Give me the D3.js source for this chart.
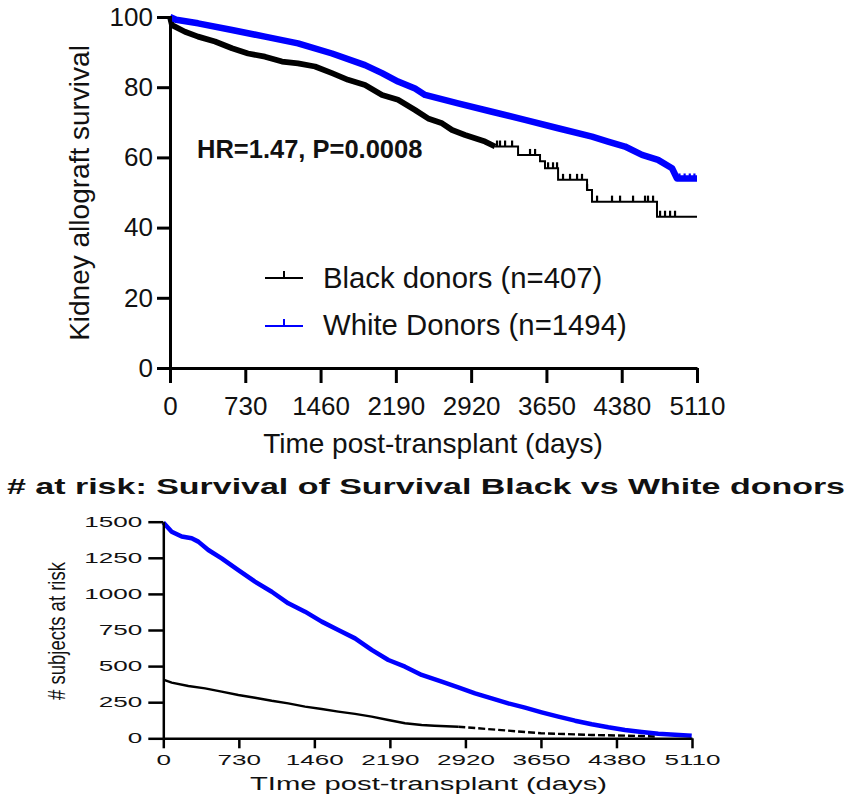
<!DOCTYPE html>
<html><head><meta charset="utf-8">
<script src="https://cdn.jsdelivr.net/npm/d3@7"></script>
<style>body{margin:0;background:#fff} svg{display:block;font-family:"Liberation Sans",Arial,sans-serif}</style>
</head><body>
<svg id="c" width="851" height="803"></svg>
<script>
// ---------- data ----------
const xTicks = [0,730,1460,2190,2920,3650,4380,5110];
const survTicks = [0,20,40,60,80,100];
const riskTicks = [0,250,500,750,1000,1250,1500];

const seriesNames = ["Black donors (n=407)", "White Donors (n=1494)"];
const hrLabel = "HR=1.47, P=0.0008";

// Kaplan-Meier survival (%), Black donors
const blackSurvTime  = [0,19,145,272,436,601,756,921,1086,1241,1406,1571,1726,1891,2056,2211,2376,2502,2638,2735,2861,3055,3152,3375,3588,3636,3763,4044,4092,4722,5110];
const blackSurvValue = [100,97.7,95.8,94.4,93.0,91.1,89.6,88.7,87.3,86.8,85.9,84.0,82.1,80.6,77.8,76.4,73.5,71.1,69.7,67.8,66.4,64.5,63.1,60.7,58.9,56.9,53.6,50.7,47.4,43.1,43.1];
const blackCensor = [3171,3200,3249,3317,3491,3540,3666,3714,3753,3811,3879,3947,3995,4044,4141,4286,4364,4490,4606,4635,4684,4752,4800,4849,4897];

// Kaplan-Meier survival (%), White donors
const whiteSurvTime  = [0,60,272,601,921,1241,1571,1891,2056,2211,2376,2473,2793,3122,3442,3763,4092,4247,4412,4577,4732,4868,4916,5110];
const whiteSurvValue = [100,99.2,98.2,96.3,94.4,92.5,89.6,86.3,84.0,81.6,79.6,77.8,75.4,73.0,70.7,68.3,65.9,64.5,63.1,60.7,59.3,56.9,54.0,54.0];
const whiteCensor = [4940,4990,5040,5085];

// Number at risk
const blackRiskTime  = [0,81,242,404,564,725,886,1048,1208,1370,1531,1691,1853,2014,2175,2336,2497,2620,2851,3174,3650,4141,4620,4750];
const blackRiskValue = [407,385,362,346,323,300,281,260,242,219,203,185,169,150,127,104,92,87,80,62,35,23,16,12];
const whiteRiskTime  = [0,81,178,274,338,435,564,725,886,1048,1208,1370,1531,1691,1853,2014,2175,2336,2497,2691,2851,3013,3174,3334,3496,3657,3818,3979,4141,4301,4462,4624,4784,4945,5107];
const whiteRiskValue = [1494,1431,1397,1385,1362,1304,1246,1165,1085,1015,935,877,808,750,692,612,542,496,439,392,353,311,277,242,212,180,150,122,97,76,58,44,32,25,18];

// ---------- drawing ----------
const svg = d3.select("#c");
const BLUE = "#0000ff", BLK = "#000";
const FONT = '"Liberation Sans",Arial,sans-serif';
const zip = (t,v) => t.map((d,i)=>({t:d, v:v[i]}));
const stepVal = (pts, t) => { let v = pts[0].v; for (const p of pts) { if (p.t <= t) v = p.v; } return v; };
const plain = d3.format("d");

// ===== Top: survival =====
const x1 = d3.scaleLinear().domain([0,5110]).range([170,697]);
const y1 = d3.scaleLinear().domain([0,100]).range([368,17]);

const black = zip(blackSurvTime, blackSurvValue);
const white = zip(whiteSurvTime, whiteSurvValue);
const BLACK_BAND_END = 3152;

const stepLine = d3.line().x(d=>x1(d.t)).y(d=>y1(d.v)).curve(d3.curveStepAfter);
const bandLine = d3.line().x(d=>x1(d.t)).y(d=>y1(d.v)).curve(d3.curveLinear);

const gTop = svg.append("g");
// black curve: dense part drawn as band, sparse part as steps
gTop.append("path").attr("d", stepLine(black.filter(d=>d.t>=BLACK_BAND_END))).attr("fill","none").attr("stroke",BLK).attr("stroke-width",2);
gTop.append("path").attr("d", bandLine(black.filter(d=>d.t<=BLACK_BAND_END))).attr("fill","none").attr("stroke",BLK)
   .attr("stroke-width",5.8).attr("stroke-linejoin","round");
gTop.selectAll(".bc").data(blackCensor).join("line")
   .attr("x1",d=>x1(d)).attr("x2",d=>x1(d))
   .attr("y1",d=>y1(stepVal(black,d))).attr("y2",d=>y1(stepVal(black,d))-6)
   .attr("stroke",BLK).attr("stroke-width",2.2);
// white curve
gTop.append("path").attr("d", bandLine(white)).attr("fill","none").attr("stroke",BLUE)
   .attr("stroke-width",6.5).attr("stroke-linejoin","round");
gTop.selectAll(".wc").data(whiteCensor).join("line")
   .attr("x1",d=>x1(d)).attr("x2",d=>x1(d))
   .attr("y1",d=>y1(stepVal(white,d))).attr("y2",d=>y1(stepVal(white,d))-5)
   .attr("stroke",BLUE).attr("stroke-width",2.2);

// axes
const ay1 = gTop.append("g").attr("transform","translate(170,0)")
  .call(d3.axisLeft(y1).tickValues(survTicks).tickFormat(plain).tickSize(13).tickSizeOuter(0).tickPadding(4));
const ax1 = gTop.append("g").attr("transform","translate(0,368)")
  .call(d3.axisBottom(x1).tickValues(xTicks).tickFormat(plain).tickSize(15).tickSizeOuter(0).tickPadding(13.5));
[ay1, ax1].forEach(g=>{
  g.attr("font-family",null).attr("font-size",null);
  g.selectAll("path,line").attr("stroke","#000").attr("stroke-width",3);
  g.selectAll("text").attr("fill","#111").style("font-size","26px").style("font-family",FONT);
});
ay1.select(".domain").attr("stroke-linecap","square");

gTop.append("text").attr("transform","translate(88.5,193) rotate(-90)").attr("text-anchor","middle")
   .style("font-size","28px").attr("fill","#111").text("Kidney allograft survival");
gTop.append("text").attr("x",433).attr("y",452.5).attr("text-anchor","middle")
   .style("font-size","28px").attr("fill","#111").text("Time post-transplant (days)");
gTop.append("text").attr("x",197).attr("y",158).style("font-size","25.5px").style("font-weight","bold")
   .attr("fill","#111").text(hrLabel);

// legend
const legend = gTop.append("g");
[[BLK,278,287.5],[BLUE,326,335]].forEach(([c,ly,ty],i)=>{
  legend.append("line").attr("x1",265).attr("x2",303).attr("y1",ly).attr("y2",ly).attr("stroke",c).attr("stroke-width",2);
  legend.append("line").attr("x1",284).attr("x2",284).attr("y1",ly).attr("y2",ly-7).attr("stroke",c).attr("stroke-width",2);
  legend.append("text").attr("x",323).attr("y",ty).style("font-size","29.3px").attr("fill","#111").text(seriesNames[i]);
});

// ===== Bottom: number at risk =====
const SX = 1.8;
const x2 = d3.scaleLinear().domain([0,5110]).range([163.3,692]);
const y2 = d3.scaleLinear().domain([0,1500]).range([738.3,521.7]);
const gBot = svg.append("g");

gBot.append("text").attr("x",7).attr("y",494).style("font-size","22px").style("font-weight","bold")
   .attr("textLength",838).attr("lengthAdjust","spacingAndGlyphs").attr("fill","#111")
   .text("# at risk: Survival of Survival Black vs White donors");

const riskLine = d3.line().x(d=>x2(d.t)).y(d=>y2(d.v)).curve(d3.curveLinear);
const bRisk = zip(blackRiskTime, blackRiskValue);
const wRisk = zip(whiteRiskTime, whiteRiskValue);
gBot.append("path").attr("d", riskLine(bRisk.filter(d=>d.t<=2851))).attr("fill","none").attr("stroke",BLK).attr("stroke-width",2.4);
gBot.append("path").attr("d", riskLine(bRisk.filter(d=>d.t>=2851))).attr("fill","none").attr("stroke",BLK)
   .attr("stroke-width",2.4).attr("stroke-dasharray","7,3");
gBot.append("path").attr("d", riskLine(wRisk)).attr("fill","none").attr("stroke",BLUE).attr("stroke-width",4.5).attr("stroke-linejoin","round");

const ay2 = gBot.append("g").attr("transform","translate(163.3,0)")
  .call(d3.axisLeft(y2).tickValues(riskTicks).tickFormat(plain).tickSize(15).tickSizeOuter(0).tickPadding(6));
const ax2 = gBot.append("g").attr("transform","translate(0,738.3)")
  .call(d3.axisBottom(x2).tickValues(xTicks).tickFormat(plain).tickSize(10).tickSizeOuter(0).tickPadding(6.4));
[ay2, ax2].forEach(g=>{
  g.attr("font-family",null).attr("font-size",null);
  g.selectAll("path,line").attr("stroke","#000").attr("stroke-width",2.5);
  g.selectAll("text").attr("fill","#111").style("font-size","14.5px").style("font-family",FONT)
   .attr("transform",`scale(${SX},1)`);
});
ay2.selectAll("text").attr("x",-21/SX);

gBot.append("text").attr("transform",`translate(65,631) scale(1.3,1) rotate(-90)`).attr("text-anchor","middle")
   .style("font-size","18px").attr("textLength",138).attr("lengthAdjust","spacingAndGlyphs").attr("fill","#111")
   .text("# subjects at risk");
gBot.append("text").attr("x",250).attr("y",790).style("font-size","18px")
   .attr("textLength",357).attr("lengthAdjust","spacingAndGlyphs").attr("fill","#111")
   .text("TIme post-transplant (days)");
</script>
</body></html>
